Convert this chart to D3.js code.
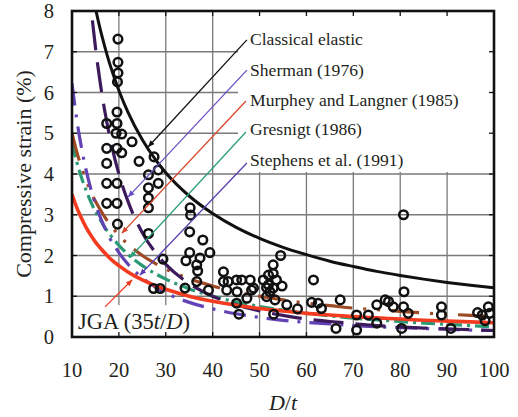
<!DOCTYPE html>
<html><head><meta charset="utf-8">
<script src="https://cdn.jsdelivr.net/npm/d3@7"></script>
<style>body{margin:0;background:#fff}svg{display:block}text{font-family:"Liberation Serif","Times New Roman",serif;fill:#231f20}</style>
</head><body><svg id="c" width="518" height="417"></svg>
<script>
const xTicks = [10,20,30,40,50,60,70,80,90,100];
const yTicks = [0,1,2,3,4,5,6,7,8];
// test data (D/t, compressive strain %)
const testDt = [17.4,17.4,17.4,17.4,17.4,19.8,19.8,19.8,19.7,19.6,19.6,19.4,19.6,19.6,19.6,19.7,20.6,20.6,22.8,24.3,27.5,28.4,26.3,28.4,26.3,26.3,26.3,26.3,35.2,35.3,35.1,37.9,39.4,35.1,34.3,37.3,36.6,36.8,29.4,27.4,28.8,34.1,36.6,39.1,42.3,42.3,43.3,45.1,46.2,48.0,48.7,43.0,45.2,47.3,45.1,45.6,48.3,50.8,51.9,51.9,52.2,51.5,53.3,54.5,52.9,52.9,53.6,54.8,52.9,51.5,53.0,55.8,58.1,61.5,61.1,62.5,63.2,67.2,66.3,70.7,70.7,73.2,75.0,76.8,78.5,75.0,80.7,80.8,80.7,81.7,80.3,88.8,88.8,90.8,96.5,97.5,98.8,99.1,98.1,77.5];
const testStrain = [5.24,4.63,4.26,3.77,3.28,7.31,6.74,6.48,6.26,5.52,5.24,5.00,4.63,3.77,3.28,2.77,4.98,4.52,4.79,4.31,4.42,4.10,3.98,3.77,3.66,3.41,3.17,2.54,3.17,2.99,2.58,2.38,2.07,2.07,1.87,1.94,1.77,1.62,1.91,1.19,1.19,1.20,1.36,1.15,1.60,1.36,1.36,1.40,1.40,1.40,1.20,1.15,1.11,0.95,0.83,0.56,1.15,1.40,1.52,1.28,1.11,0.99,0.91,2.00,1.77,1.56,1.40,1.25,1.20,1.21,0.56,0.79,0.69,1.40,0.85,0.83,0.70,0.91,0.21,0.54,0.17,0.54,0.79,0.91,0.74,0.34,3.00,1.11,0.74,0.58,0.21,0.74,0.54,0.21,0.60,0.54,0.74,0.58,0.40,0.87];
// design curves sampled at D/t
const curveDt = [10,11,12,13,14,15,16,17,18,20,22,25,28,30,35,40,45,50,55,60,65,70,75,80,85,90,95,100];
const classical = [12.1,11.0,10.08,9.31,8.64,8.07,7.56,7.12,6.72,6.05,5.50,4.84,4.32,4.03,3.46,3.03,2.69,2.42,2.20,2.02,1.86,1.73,1.61,1.51,1.42,1.34,1.27,1.21];
const sherman = [16,13.2,11.1,9.47,8.16,7.11,6.25,5.54,4.94,4.00,3.31,2.56,2.04,1.78,1.31,1.00,0.79,0.64,0.53,0.44,0.38,0.33,0.28,0.25,0.22,0.20,0.18,0.16];
const murphey = [5.0,4.55,4.17,3.85,3.57,3.33,3.13,2.94,2.78,2.50,2.27,2.00,1.79,1.67,1.43,1.25,1.11,1.00,0.91,0.83,0.77,0.71,0.67,0.63,0.59,0.56,0.53,0.50];
const gresnigt = [4.75,4.30,3.92,3.60,3.32,3.08,2.88,2.69,2.53,2.25,2.02,1.75,1.54,1.42,1.18,1.00,0.86,0.75,0.66,0.58,0.52,0.46,0.42,0.38,0.34,0.31,0.28,0.25];
const stephens = [6.22,5.35,4.66,4.10,3.64,3.26,2.95,2.68,2.44,2.07,1.78,1.45,1.21,1.08,0.85,0.69,0.57,0.48,0.41,0.36,0.32,0.28,0.25,0.23,0.21,0.19,0.17,0.16];
const jga = [3.50,3.18,2.92,2.69,2.50,2.33,2.19,2.06,1.94,1.75,1.59,1.40,1.25,1.17,1.00,0.875,0.78,0.70,0.64,0.58,0.54,0.50,0.47,0.44,0.41,0.39,0.37,0.35];
const legendLabels = ["Classical elastic","Sherman (1976)","Murphey and Langner (1985)","Gresnigt (1986)","Stephens et al. (1991)"];

const svg = d3.select("#c");
const x = d3.scaleLinear([10,100],[72,494]);
const y = d3.scaleLinear([0,8],[337,11]);
const L=72,R=494,T=11,B=337;

svg.append("defs").append("clipPath").attr("id","clip").append("rect")
  .attr("x",L).attr("y",T).attr("width",R-L).attr("height",B-T);

// grid
const g = svg.append("g");
g.selectAll("line.vx").data(xTicks.slice(1,-1)).join("line")
  .attr("x1",d=>x(d)).attr("x2",d=>x(d)).attr("y1",T).attr("y2",B)
  .attr("stroke","#7a7a7a").attr("stroke-width",1.3);
g.selectAll("line.hy").data(yTicks.slice(1,-1)).join("line")
  .attr("y1",d=>y(d)).attr("y2",d=>y(d)).attr("x1",L).attr("x2",R)
  .attr("stroke","#7a7a7a").attr("stroke-width",1.3);

// white boxes (legend and JGA label)
svg.append("rect").attr("x",x(45.4)).attr("y",y(8)).attr("width",x(100)-x(45.4)).attr("height",y(4.05)-y(8)).attr("fill","#fff");
svg.append("rect").attr("x",x(10)).attr("y",y(0.78)).attr("width",x(36.4)-x(10)).attr("height",y(0)-y(0.78)).attr("fill","#fff");

// curves
const line = d3.line().x(d=>x(d[0])).y(d=>y(d[1])).curve(d3.curveMonotoneX);
const cg = svg.append("g").attr("clip-path","url(#clip)");
const curves = [
  {v:gresnigt, c:"#2a9a76", w:3.2, dash:"14,5,3,5"},
  {v:murphey, c:"#9e4a25", w:3.2, dash:"28,11,3,11,3,11"},
  {v:stephens, c:"#6242b4", w:3.2, dash:"22,9,3,9"},
  {v:sherman, c:"#3c1a5c", w:3.2, dash:"30,12"},
  {v:classical, c:"#111", w:3, dash:null},
  {v:jga, c:"#f23b1f", w:3.6, dash:null}
];
curves.forEach(cv=>{
  cg.append("path").attr("d",line(curveDt.map((d,i)=>[d,cv.v[i]])))
    .attr("fill","none").attr("stroke",cv.c).attr("stroke-width",cv.w)
    .attr("stroke-dasharray",cv.dash);
});

// test points
cg.selectAll("circle").data(testDt.map((d,i)=>[d,testStrain[i]])).join("circle")
  .attr("cx",d=>x(d[0])).attr("cy",d=>y(d[1])).attr("r",4.3)
  .attr("fill","none").attr("stroke","#111").attr("stroke-width",2.5);

// leaders
const leaders = [
  {c:"#111", from:[47.3,7.29], to:[26.27,4.67]},
  {c:"#6a4fc2", from:[47.3,6.55], to:[22.0,3.44]},
  {c:"#d9482a", from:[47.1,5.79], to:[20.66,2.55]},
  {c:"#2aa079", from:[47.1,5.03], to:[22.37,1.95]},
  {c:"#5a3db3", from:[47.3,4.27], to:[24.5,1.52]},
  {c:"#ee3a20", from:[17.04,0.74], to:[22.8,1.40]}
];
const defs = svg.select("defs");
leaders.forEach((l,i)=>{
  defs.append("marker").attr("id","m"+i).attr("viewBox","0 0 10 10").attr("refX",9).attr("refY",5)
    .attr("markerWidth",7).attr("markerHeight",7).attr("orient","auto").attr("markerUnits","userSpaceOnUse")
    .append("path").attr("d","M0,1 L10,5 L0,9 z").attr("fill",l.c);
  svg.append("line").attr("x1",x(l.from[0])).attr("y1",y(l.from[1]))
    .attr("x2",x(l.to[0])).attr("y2",y(l.to[1]))
    .attr("stroke",l.c).attr("stroke-width",1.3).attr("marker-end","url(#m"+i+")");
});

// legend text
const legBase = [45,76,106,135,166];
legendLabels.forEach((t,i)=>{
  svg.append("text").attr("x",250).attr("y",legBase[i]).attr("font-size",17.6).text(t);
});
// JGA label
const jt = svg.append("text").attr("x",78).attr("y",329).attr("font-size",22.5);
jt.append("tspan").text("JGA (35");
jt.append("tspan").attr("font-style","italic").text("t");
jt.append("tspan").text("/");
jt.append("tspan").attr("font-style","italic").text("D");
jt.append("tspan").text(")");

// ticks inward
const tk = svg.append("g").attr("stroke","#111").attr("stroke-width",1.3);
xTicks.slice(1,-1).forEach(d=>{
  tk.append("line").attr("x1",x(d)).attr("x2",x(d)).attr("y1",B).attr("y2",B-5);
  tk.append("line").attr("x1",x(d)).attr("x2",x(d)).attr("y1",T).attr("y2",T+5);
});
yTicks.slice(1,-1).forEach(d=>{
  tk.append("line").attr("y1",y(d)).attr("y2",y(d)).attr("x1",L).attr("x2",L+5);
  tk.append("line").attr("y1",y(d)).attr("y2",y(d)).attr("x1",R).attr("x2",R-5);
});
// border
svg.append("rect").attr("x",L).attr("y",T).attr("width",R-L).attr("height",B-T)
  .attr("fill","none").attr("stroke","#111").attr("stroke-width",2.6);

// tick labels
svg.selectAll("text.xt").data(xTicks).join("text").attr("class","xt")
  .attr("x",d=>x(d)).attr("y",377).attr("text-anchor","middle").attr("font-size",20.5).text(d=>d);
svg.selectAll("text.yt").data(yTicks).join("text").attr("class","yt")
  .attr("x",54).attr("y",d=>y(d)+7).attr("text-anchor","end").attr("font-size",20.5).text(d=>d);

// axis titles
svg.append("text").attr("transform","translate(31,174) rotate(-90)").attr("text-anchor","middle")
  .attr("font-size",22).text("Compressive strain (%)");
const xt = svg.append("text").attr("x",283).attr("y",410).attr("text-anchor","middle").attr("font-size",22);
xt.append("tspan").attr("font-style","italic").text("D");
xt.append("tspan").text("/");
xt.append("tspan").attr("font-style","italic").text("t");
</script></body></html>
